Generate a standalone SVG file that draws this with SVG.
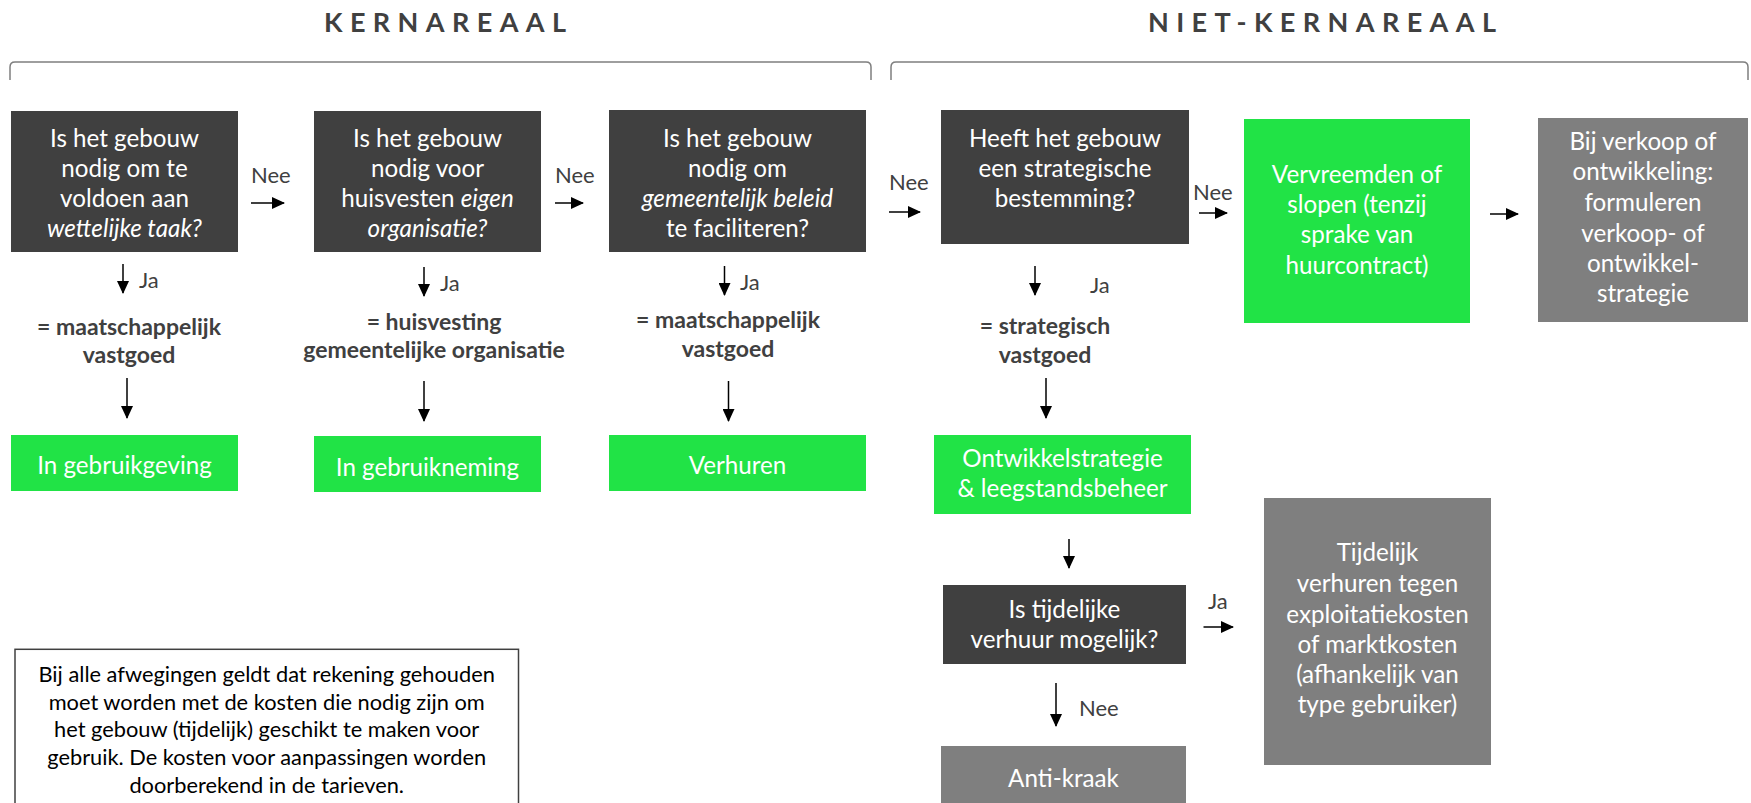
<svg xmlns="http://www.w3.org/2000/svg" width="1751" height="803" viewBox="0 0 1751 803">
<style>
text{font-family:Lato,"Open Sans",sans-serif;}
.bx{font-size:24.2px;fill:#ffffff;text-anchor:middle;}
.it{font-style:italic;}
.lb{font-size:22px;fill:#404040;}
.bl{font-size:23px;fill:#404040;font-weight:bold;text-anchor:middle;}
.ttl{font-size:27px;font-weight:bold;fill:#404040;letter-spacing:7.4px;}
.note{font-size:21.8px;fill:#000000;text-anchor:middle;}
.dark{fill:#404040;}
.green{fill:#21e346;}
.gray{fill:#7f7f7f;}
.br{fill:none;stroke:#7f7f7f;stroke-width:1.5;}
.ar{stroke:#000000;stroke-width:1.5;fill:none;marker-end:url(#ah);}
</style>
<defs>
<marker id="ah" markerUnits="userSpaceOnUse" markerWidth="13" markerHeight="12" refX="12" refY="6" orient="auto">
<path d="M0,0 L13,6 L0,12 z" fill="#000000"/>
</marker>
</defs>
<rect width="1751" height="803" fill="#ffffff"/>

<g id="titles">
<text class="ttl" x="324" y="32">KERNAREAAL</text>
<text class="ttl" x="1148" y="32">NIET-KERNAREAAL</text>
<path class="br" d="M10,80 L10,67 Q10,62 15,62 L866,62 Q871,62 871,67 L871,80"/>
<path class="br" d="M891,80 L891,67 Q891,62 896,62 L1743,62 Q1748,62 1748,67 L1748,80"/>
</g>

<g id="q1">
<rect class="dark" x="11" y="111" width="227" height="141"/>
<text class="bx" x="124.5" y="146.7">Is het gebouw</text>
<text class="bx" x="124.5" y="176.7">nodig om te</text>
<text class="bx" x="124.5" y="206.7">voldoen aan</text>
<text class="bx it" x="124.5" y="236.7">wettelijke taak?</text>
</g>
<g id="q2">
<rect class="dark" x="314" y="111" width="227" height="141"/>
<text class="bx" x="427.5" y="146.7">Is het gebouw</text>
<text class="bx" x="427.5" y="176.7">nodig voor</text>
<text class="bx" x="427.5" y="206.7">huisvesten <tspan class="it">eigen</tspan></text>
<text class="bx it" x="427.5" y="236.7">organisatie?</text>
</g>
<g id="q3">
<rect class="dark" x="609" y="110" width="257" height="142"/>
<text class="bx" x="737.5" y="146.7">Is het gebouw</text>
<text class="bx" x="737.5" y="176.7">nodig om</text>
<text class="bx it" x="737.5" y="206.5">gemeentelijk beleid</text>
<text class="bx" x="737.5" y="236.5">te faciliteren?</text>
</g>
<g id="q4">
<rect class="dark" x="941" y="110" width="248" height="134"/>
<text class="bx" x="1065" y="146.7">Heeft het gebouw</text>
<text class="bx" x="1065" y="176.7">een strategische</text>
<text class="bx" x="1065" y="206.7">bestemming?</text>
</g>
<g id="vervreemden">
<rect class="green" x="1244" y="119" width="226" height="204"/>
<text class="bx" x="1357" y="183.3">Vervreemden of</text>
<text class="bx" x="1357" y="213.3">slopen (tenzij</text>
<text class="bx" x="1357" y="243.3">sprake van</text>
<text class="bx" x="1357" y="274">huurcontract)</text>
</g>
<g id="verkoop">
<rect class="gray" x="1538" y="118" width="210" height="204"/>
<text class="bx" x="1643" y="150">Bij verkoop of</text>
<text class="bx" x="1643" y="180">ontwikkeling:</text>
<text class="bx" x="1643" y="211">formuleren</text>
<text class="bx" x="1643" y="241.5">verkoop- of</text>
<text class="bx" x="1643" y="271.5">ontwikkel-</text>
<text class="bx" x="1643" y="301.5">strategie</text>
</g>

<g id="label1">
<text class="bl" x="129" y="335">= maatschappelijk</text>
<text class="bl" x="129" y="363.3">vastgoed</text>
</g>
<g id="label2">
<text class="bl" x="434" y="330">= huisvesting</text>
<text class="bl" x="434" y="358.3">gemeentelijke organisatie</text>
</g>
<g id="label3">
<text class="bl" x="728" y="328.3">= maatschappelijk</text>
<text class="bl" x="728" y="357.3">vastgoed</text>
</g>
<g id="label4">
<text class="bl" x="1045" y="334">= strategisch</text>
<text class="bl" x="1045" y="362.7">vastgoed</text>
</g>

<g id="gebruikgeving">
<rect class="green" x="11" y="435" width="227" height="56"/>
<text class="bx" x="124.5" y="474">In gebruikgeving</text>
</g>
<g id="gebruikneming">
<rect class="green" x="314" y="436" width="227" height="56"/>
<text class="bx" x="427.5" y="475.5">In gebruikneming</text>
</g>
<g id="verhuren">
<rect class="green" x="609" y="435" width="257" height="56"/>
<text class="bx" x="737.5" y="474">Verhuren</text>
</g>
<g id="ontwikkelstrategie">
<rect class="green" x="934" y="435" width="257" height="79"/>
<text class="bx" x="1062.5" y="466.7">Ontwikkelstrategie</text>
<text class="bx" x="1062.5" y="496.7">&amp; leegstandsbeheer</text>
</g>
<g id="q5">
<rect class="dark" x="943" y="585" width="243" height="79"/>
<text class="bx" x="1064.5" y="617.7">Is tijdelijke</text>
<text class="bx" x="1064.5" y="648.3">verhuur mogelijk?</text>
</g>
<g id="tijdelijk">
<rect class="gray" x="1264" y="498" width="227" height="267"/>
<text class="bx" x="1377.5" y="561">Tijdelijk</text>
<text class="bx" x="1377.5" y="591.7">verhuren tegen</text>
<text class="bx" x="1377.5" y="622.7">exploitatiekosten</text>
<text class="bx" x="1377.5" y="653.3">of marktkosten</text>
<text class="bx" x="1377.5" y="683.3">(afhankelijk van</text>
<text class="bx" x="1377.5" y="713.3">type gebruiker)</text>
</g>
<g id="antikraak">
<rect class="gray" x="941" y="746" width="245" height="60"/>
<text class="bx" x="1063.5" y="786.7">Anti-kraak</text>
</g>
<g id="note">
<rect x="15" y="649.3" width="503.5" height="170" fill="#ffffff" stroke="#404040" stroke-width="1.5"/>
<text class="note" x="266.7" y="681.7">Bij alle afwegingen geldt dat rekening gehouden</text>
<text class="note" x="266.7" y="709.5">moet worden met de kosten die nodig zijn om</text>
<text class="note" x="266.7" y="737.3">het gebouw (tijdelijk) geschikt te maken voor</text>
<text class="note" x="266.7" y="765.3">gebruik. De kosten voor aanpassingen worden</text>
<text class="note" x="266.7" y="792.7">doorberekend in de tarieven.</text>
</g>

<g id="connectors">
<line class="ar" x1="251" y1="203" x2="284" y2="203"/>
<line class="ar" x1="555" y1="203" x2="583" y2="203"/>
<line class="ar" x1="889" y1="212" x2="920" y2="212"/>
<line class="ar" x1="1199" y1="213" x2="1227" y2="213"/>
<line class="ar" x1="1490" y1="214" x2="1518" y2="214"/>
<line class="ar" x1="1203.5" y1="627" x2="1233" y2="627"/>
<line class="ar" x1="123" y1="264" x2="123" y2="293"/>
<line class="ar" x1="127" y1="378" x2="127" y2="418"/>
<line class="ar" x1="424" y1="267" x2="424" y2="296"/>
<line class="ar" x1="424" y1="381" x2="424" y2="421"/>
<line class="ar" x1="724.5" y1="266" x2="724.5" y2="295"/>
<line class="ar" x1="728.5" y1="381" x2="728.5" y2="421"/>
<line class="ar" x1="1035" y1="266" x2="1035" y2="295"/>
<line class="ar" x1="1046" y1="378" x2="1046" y2="418"/>
<line class="ar" x1="1069" y1="539" x2="1069" y2="568"/>
<line class="ar" x1="1056" y1="683" x2="1056" y2="726"/>
<text class="lb" x="251" y="183.3">Nee</text>
<text class="lb" x="555" y="183">Nee</text>
<text class="lb" x="889" y="190">Nee</text>
<text class="lb" x="1193" y="200">Nee</text>
<text class="lb" x="1079" y="716">Nee</text>
<text class="lb" x="139" y="288.3">Ja</text>
<text class="lb" x="440" y="290.7">Ja</text>
<text class="lb" x="740" y="290">Ja</text>
<text class="lb" x="1090" y="292.7">Ja</text>
<text class="lb" x="1208" y="609.3">Ja</text>
</g>
</svg>
